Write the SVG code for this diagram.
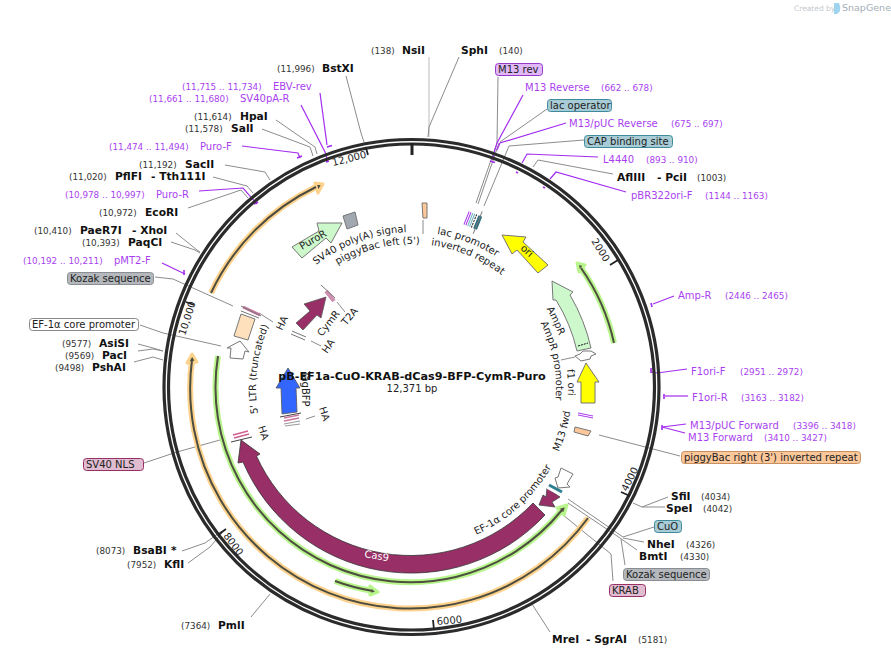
<svg xmlns="http://www.w3.org/2000/svg" xmlns:xlink="http://www.w3.org/1999/xlink" width="891" height="656" viewBox="0 0 891 656">
<style>
text{font-family:"DejaVu Sans","Liberation Sans",sans-serif;font-size:10px;fill:#222}
.b{font-weight:bold;font-size:10.7px;fill:#111}
.c{font-size:8.8px;fill:#333}
.p{fill:#a93ff0}
.pc{fill:#a93ff0;font-size:8.8px}
.ld{fill:none;stroke:#8c8c8c;stroke-width:1}
.lp{fill:none;stroke:#a32cf0;stroke-width:1.2}
.mk{fill:none;stroke:#a32cf0;stroke-width:1.6}
.box{stroke-width:1}
.f{stroke:#777;stroke-width:1}
.dk{fill:none;stroke:#4d4d40;stroke-width:2}
.ho{fill:none;stroke:#fdd28c;stroke-width:6}
.hg{fill:none;stroke:#b8f58c;stroke-width:6}
.gy{stroke:#777;stroke-width:1;fill:none}
</style>
<defs>
<path id="t156" d="M276.9 310A156 156 0 0 1 547.1 310"/>
<path id="t144" d="M287.3 316A144 144 0 0 1 536.7 316"/>
<path id="b160" d="M273.4 468A160 160 0 0 0 550.6 468"/>
</defs>

<g id="logo"><text x="794" y="11" style="font-size:7.5px;fill:#c4c8cc">Created by</text><path d="M834 3h5q2 4 1 8l-3 3h-3z" fill="#9fd4ee"/><text x="842" y="11" style="font-size:9.5px;fill:#a4acb4">SnapGene</text></g>

<g id="connectors">
<path class="ld" style="stroke:#bbb" d="M429 57V137"/>
<path class="ld" d="M459 57L429 127L428 137"/>
<path class="ld" d="M346 76L361 133L364 142"/>
<path class="ld" d="M498 77L497 143L476 203M499 143L478 204"/>
<path class="ld" d="M547 109L500 142"/>
<path class="ld" d="M584 140L509 146L484 206"/>
<path class="ld" d="M613 174L538 160L533 167"/>
<path class="ld" d="M276 120L315 147L317 154"/>
<path class="ld" d="M262 129L310 147L313 156"/>
<path class="ld" d="M225 165L265 172L270 180"/>
<path class="ld" d="M213 177L247 186L253 193"/>
<path class="ld" d="M188 208L241 190L248 198"/>
<path class="ld" d="M176 233L197 250L200 252"/>
<path class="ld" d="M171 242L195 250L200 253"/>
<path class="ld" d="M155 277L173 279L233 306"/>
<path class="ld" d="M140 325L163 333L221 346"/>
<path class="ld" d="M138 344L153 348L163 351"/>
<path class="ld" d="M138 351L153 349L163 351"/>
<path class="ld" d="M134 362L153 357L163 360"/>
<path class="ld" d="M144 463L177 452L220 440"/>
<path class="ld" d="M182 551L205 543L222 531"/>
<path class="ld" d="M188 563L210 547L222 533"/>
<path class="ld" d="M251 617L270 594"/>
<path class="ld" d="M550 632L532 604"/>
<path class="ld" d="M668 497L642 507L633 503"/>
<path class="ld" d="M665 507L642 507"/>
<path class="ld" d="M654 527L623 537L568 499"/>
<path class="ld" d="M644 542L623 538"/>
<path class="ld" d="M637 550L620 538L568 503"/>
<path class="ld" d="M625 565L621 539"/>
<path class="ld" d="M613 581L611 554L563 515"/>
<path class="ld" d="M680 456L599 435"/>
<path class="ld" d="M423 220V234"/>
<path class="ld" d="M337 302L345 312M311 341L321 346M259 313L273 322M306 419L315 416"/>
<path class="lp" d="M523 95L497 143L492 160"/>
<path class="lp" d="M566 123L500 143L497 150"/>
<path class="lp" d="M598 157L527 154L522 163"/>
<path class="lp" d="M626 192L556 172L550 179"/>
<path class="lp" d="M320 93L327 145"/>
<path class="lp" d="M301 105L325 152L328 162"/>
<path class="lp" d="M242 146L298 153L300 158"/>
<path class="lp" d="M199 191L243 188L257 204"/>
<path class="lp" d="M162 263L185 274"/>
<path class="lp" d="M674 296L653 304"/>
<path class="lp" d="M687 369L657 373L651 372"/>
<path class="lp" d="M688 396H665"/>
<path class="lp" d="M686 424L662 427L685 433"/>
<path class="mk" d="M490 161l5 1.5M516 172l2 1M543 187l2 1M327 147l5-1.5M326 162l3-1M297 158l5-2M254 204l4-2M184 270v5M651 303l1 4M651 368v5M664 394v5M662 425v5"/>
</g>

<g id="ring">
<circle cx="411.500" cy="387" r="247.500" fill="none" stroke="#2b2b2b" stroke-width="3.200"/>
<circle cx="411.500" cy="387" r="243" fill="none" stroke="#2b2b2b" stroke-width="3.200"/>
<path d="M412 143V155" stroke="#222" stroke-width="3"/>
<path d="M618 260L610 265M630 496L621 492M434 630L433 620M218 535L226 529M186 302L194 305M366 148L368 155" stroke="#222" stroke-width="1.800" fill="none"/>
<text transform="translate(591 241) rotate(58)">2000</text>
<text transform="translate(627 492) rotate(-63)">4000</text>
<text transform="translate(437 625) rotate(-5)">6000</text>
<text transform="translate(223 536) rotate(53)">8000</text>
<text transform="translate(185 336) rotate(-72)">10,000</text>
<text transform="translate(333 166) rotate(-14)">12,000</text>
</g>

<g id="feature-tracks">
<path class="ho" d="M588 518A220 220 0 0 1 192 360"/>
<path class="ho" d="M211 293A222 222 0 0 1 316 187"/>
<path class="hg" d="M562 510A195 195 0 0 1 218 356"/>
<path class="hg" d="M614 343A207 207 0 0 0 581 268"/>
<path class="hg" d="M335 581A207 207 0 0 0 373 591"/>
<path d="M192 354L187 363L197 362zM323 184L315 183L318 193z" fill="#4d4d40" stroke="#fdd28c" stroke-width="3" stroke-linejoin="round"/>
<path d="M567 505L557 508L564 515zM577 263L579 272L585 265zM378 592L370 586L370 595z" fill="#4d4d40" stroke="#b8f58c" stroke-width="3" stroke-linejoin="round"/>
<path class="dk" d="M588 518A220 220 0 0 1 192 360"/>
<path class="dk" d="M211 293A222 222 0 0 1 316 187"/>
<path class="dk" d="M562 510A195 195 0 0 1 218 356"/>
<path class="dk" d="M614 343A207 207 0 0 0 581 268"/>
<path class="dk" d="M335 581A207 207 0 0 0 373 591"/>
</g>

<g id="cas9">
<path d="M545 515A183 183 0 0 1 243 462L238 463L241 440L260 454L256.500 456A169 169 0 0 0 533 503Z" fill="#982f66" stroke="#333" stroke-width="0.800"/>
<text transform="translate(364 557) rotate(10)" style="fill:#fff">Cas9</text>
</g>
<g id="krab"><path d="M547 488L560 497L552 502L555 507L539 505L543 495L546 497Z" fill="#982f66" stroke="#444" stroke-width="0.800"/><path d="M549 485L562 492" stroke="#2d7f90" stroke-width="3"/><path d="M547 488L560 495" stroke="#fff" stroke-width="1.500"/></g>
<g id="ef1a-arrow"><path d="M561 468L573 474L567 484L570 487L558 488L555 478L558 477Z" fill="#fff" class="f"/></g>

<g id="amp"><path d="M552 281L573 292L570 295A183 183 0 0 1 591 348L577 351A169 169 0 0 0 556 300L553 300Z" fill="#ccf8cc" class="f"/><path d="M578 346L588 343" stroke="#111" stroke-dasharray="2 1"/></g>
<g id="amp-promoter"><path d="M575 356L580 354L583 351H591L596 354L591 356L590 359L581 361Z" fill="#fff" class="f"/><path d="M561 360L575 357" class="ld"/></g>
<g id="f1ori"><path d="M586 363L599 382H595V403H581V382H577Z" fill="#ffff00" class="f"/></g>
<g id="m13fwd"><path d="M578 413L593 416M578 415L593 418" stroke="#a83cf0"/></g>
<g id="piggy-right"><path d="M575 427L591 431L588 436L574 432Z" fill="#fcc89a" class="f"/></g>
<g id="ori"><path d="M502 235L526 237L523 242L548 265L538 273L517 250L512 254Z" fill="#ffff00" class="f"/><text transform="translate(520 249) rotate(42)" style="fill:#222">ori</text></g>
<g id="lac"><g transform="rotate(22 474 221)"><path d="M466 214V228M468 214V228" stroke="#a83cf0"/><path d="M470 214V228M472 214V228" stroke="#6fb3c0"/><path d="M474 214V228" stroke="#111" stroke-dasharray="2 1"/><rect x="476" y="214" width="4" height="14" fill="#2d6f80"/><path d="M478 209V233" class="gy"/></g></g>
<g id="piggy-left"><path d="M422 203L427 203L427 218L423 218Z" fill="#fcc89a" class="f"/></g>
<g id="sv40"><path d="M343 216L355 212L358 225L347 229Z" fill="#a2a8b0" class="f"/></g>
<g id="puror"><path d="M292 247L319 231L317 223L342 223L331 243L326 238L302 258Z" fill="#ccf8cc" class="f"/><text transform="translate(302 250) rotate(-30)">PuroR</text></g>
<g id="cymr"><path d="M326 297L304 304L310 311L296 323L303 330L317 315L321 318Z" fill="#982f66" stroke="#555" stroke-width="0.800"/></g>
<g id="t2a"><path d="M326 291L334 301" stroke="#d08fb0" stroke-width="4"/><path d="M321 285L335 298" class="gy"/></g>
<g id="ha-lines"><path d="M292 331L306 337M291 334L305 340" class="gy"/></g>
<g id="ltr"><path d="M241 314L255 319L248 340L234 336Z" fill="#ffe0bd" class="f"/><path d="M243 307L260 315" stroke="#c9779f" stroke-width="3"/><path d="M241 306L261 316M241 311L259 318" class="gy"/></g>
<g id="ef1a-promoter"><path d="M240 341L249 352L245 351L243 359L230 358L231 348L227 348Z" fill="#fff" class="f"/></g>
<g id="bfp"><path d="M288 368L300 388H296L297 412L282 414L281 388L276 388Z" fill="#3366ff" stroke="#555" stroke-width="0.800"/><path d="M280 417L301 413" stroke="#444"/><path d="M284 418L299 415M284 421L299 418" stroke="#c9779f" stroke-width="1.500"/><path d="M284 424L300 421M285 426L300 424" stroke="#999"/></g>
<g id="nls"><path d="M233 435L248 431M234 438L249 434" stroke="#d0608f" stroke-width="1.500"/><path d="M231 442L252 437" stroke="#444"/></g>

<g id="curved-labels">
<text transform="rotate(-20 412 388)"><textPath href="#t156" startOffset="50%" text-anchor="middle">SV40 poly(A) signal</textPath></text>
<text transform="rotate(-14 412 388)"><textPath href="#t144" startOffset="50%" text-anchor="middle">piggyBac left (5')</textPath></text>
<text transform="rotate(21 412 388)"><textPath href="#t156" startOffset="50%" text-anchor="middle">lac promoter</textPath></text>
<text transform="rotate(23 412 388)"><textPath href="#t144" startOffset="50%" text-anchor="middle">inverted repeat</textPath></text>
<text transform="rotate(65 412 388)"><textPath href="#t156" startOffset="50%" text-anchor="middle">AmpR</textPath></text>
<text transform="rotate(79 412 388)"><textPath href="#t144" startOffset="50%" text-anchor="middle">AmpR promoter</textPath></text>
<text transform="rotate(88 412 388)"><textPath href="#t156" startOffset="50%" text-anchor="middle">f1 ori</textPath></text>
<text transform="rotate(-83 412 388)"><textPath href="#t156" startOffset="50%" text-anchor="middle">5' LTR (truncated)</textPath></text>
<text transform="rotate(-74 412 388)"><textPath href="#b160" startOffset="50%" text-anchor="middle">M13 fwd</textPath></text>
<text transform="rotate(-42 412 388)"><textPath href="#b160" startOffset="50%" text-anchor="middle">EF-1α core promoter</textPath></text>
<text transform="translate(322 337) rotate(-52)">CymR</text>
<text transform="translate(346 326) rotate(-50)">T2A</text>
<text transform="translate(327 354) rotate(-55)">HA</text>
<text transform="translate(282 331) rotate(-65)">HA</text>
<text transform="translate(302 371) rotate(90)">TagBFP</text>
<text transform="translate(319 408) rotate(72)">HA</text>
<text transform="translate(258 427) rotate(72)">HA</text>
</g>

<g id="title">
<text x="412" y="380" text-anchor="middle" class="b" style="font-size:11.200px">pB-EF1a-CuO-KRAB-dCas9-BFP-CymR-Puro</text>
<text x="412" y="392" text-anchor="middle">12,371 bp</text>
</g>

<g id="labels-enzymes">
<text class="c" x="371" y="54">(138)</text><text class="b" x="402" y="54">NsiI</text>
<text class="b" x="461" y="54">SphI</text><text class="c" x="499" y="54">(140)</text>
<text class="c" x="277" y="72">(11,996)</text><text class="b" x="322" y="72">BstXI</text>
<text class="c" x="194" y="120">(11,614)</text><text class="b" x="240" y="120">HpaI</text>
<text class="c" x="185" y="132">(11,578)</text><text class="b" x="231" y="132">SalI</text>
<text class="c" x="139" y="168">(11,192)</text><text class="b" x="185" y="168">SacII</text>
<text class="c" x="69" y="180">(11,020)</text><text class="b" x="115" y="180">PflFI</text><text class="b" x="151" y="180">- Tth111I</text>
<text class="c" x="99" y="216">(10,972)</text><text class="b" x="145" y="216">EcoRI</text>
<text class="c" x="34" y="234">(10,410)</text><text class="b" x="80" y="234">PaeR7I</text><text class="b" x="132" y="234">- XhoI</text>
<text class="c" x="82" y="246">(10,393)</text><text class="b" x="128" y="246">PaqCI</text>
<text class="c" x="62" y="347">(9577)</text><text class="b" x="99" y="347">AsiSI</text>
<text class="c" x="65" y="359">(9569)</text><text class="b" x="102" y="359">PacI</text>
<text class="c" x="55" y="371">(9498)</text><text class="b" x="92" y="371">PshAI</text>
<text class="c" x="96" y="554">(8073)</text><text class="b" x="133" y="554">BsaBI</text><text class="b" x="171" y="554">*</text>
<text class="c" x="127" y="568">(7952)</text><text class="b" x="164" y="568">KflI</text>
<text class="c" x="181" y="629">(7364)</text><text class="b" x="218" y="629">PmlI</text>
<text class="b" x="552" y="643">MreI</text><text class="b" x="586" y="643">- SgrAI</text><text class="c" x="638" y="643">(5181)</text>
<text class="b" x="639" y="560">BmtI</text><text class="c" x="680" y="560">(4330)</text>
<text class="b" x="647" y="548">NheI</text><text class="c" x="686" y="548">(4326)</text>
<text class="b" x="666" y="512">SpeI</text><text class="c" x="703" y="512">(4042)</text>
<text class="b" x="671" y="500">SfiI</text><text class="c" x="701" y="500">(4034)</text>
<text class="b" x="617" y="181">AflIII</text><text class="b" x="657" y="181">- PciI</text><text class="c" x="697" y="181">(1003)</text>
</g>

<g id="labels-primers">
<text class="pc" x="182" y="90">(11,715 .. 11,734)</text><text class="p" x="273" y="90">EBV-rev</text>
<text class="pc" x="149" y="102">(11,661 .. 11,680)</text><text class="p" x="240" y="102">SV40pA-R</text>
<text class="pc" x="109" y="150">(11,474 .. 11,494)</text><text class="p" x="200" y="150">Puro-F</text>
<text class="pc" x="65" y="198">(10,978 .. 10,997)</text><text class="p" x="156" y="198">Puro-R</text>
<text class="pc" x="23" y="264">(10,192 .. 10,211)</text><text class="p" x="114" y="264">pMT2-F</text>
<text class="p" x="525" y="91">M13 Reverse</text><text class="pc" x="601" y="91">(662 .. 678)</text>
<text class="p" x="569" y="127">M13/pUC Reverse</text><text class="pc" x="671" y="127">(675 .. 697)</text>
<text class="p" x="603" y="163">L4440</text><text class="pc" x="646" y="163">(893 .. 910)</text>
<text class="p" x="631" y="199">pBR322ori-F</text><text class="pc" x="705" y="199">(1144 .. 1163)</text>
<text class="p" x="678" y="299">Amp-R</text><text class="pc" x="725" y="299">(2446 .. 2465)</text>
<text class="p" x="691" y="375">F1ori-F</text><text class="pc" x="740" y="375">(2951 .. 2972)</text>
<text class="p" x="692" y="401">F1ori-R</text><text class="pc" x="741" y="401">(3163 .. 3182)</text>
<text class="p" x="690" y="429">M13/pUC Forward</text><text class="pc" x="793" y="429">(3396 .. 3418)</text>
<text class="p" x="688" y="441">M13 Forward</text><text class="pc" x="764" y="441">(3410 .. 3427)</text>
</g>

<g id="box-m13rev"><rect class="box" x="495.500" y="63.500" width="47" height="12" rx="3" fill="#e0b8f8" stroke="#9438c8"/><text x="498" y="73">M13 rev</text></g>
<g id="box-lacop"><rect class="box" x="547.500" y="99.500" width="64" height="12" rx="3" fill="#a8ccd6" stroke="#3f8a9c"/><text x="550" y="109">lac operator</text></g>
<g id="box-cap"><rect class="box" x="584.500" y="135.500" width="88" height="12" rx="3" fill="#a8ccd6" stroke="#3f8a9c"/><text x="587" y="145">CAP binding site</text></g>
<g id="box-kozak1"><rect class="box" x="67.500" y="272.500" width="86" height="12" rx="3" fill="#b4b8bc" stroke="#8a8e92"/><text x="70" y="282">Kozak sequence</text></g>
<g id="box-ef1a"><rect class="box" x="29.500" y="318.500" width="109" height="12" rx="3" fill="#fff" stroke="#888"/><text x="32" y="328">EF-1α core promoter</text></g>
<g id="box-nls"><rect class="box" x="83.500" y="458.500" width="60" height="12" rx="3" fill="#e0bcd0" stroke="#982f66"/><text x="86" y="468">SV40 NLS</text></g>
<g id="box-piggy"><rect class="box" x="681.500" y="451.500" width="179" height="12" rx="3" fill="#fcc89a" stroke="#c89060"/><text x="684" y="461">piggyBac right (3') inverted repeat</text></g>
<g id="box-cuo"><rect class="box" x="654.500" y="520.500" width="27" height="12" rx="3" fill="#a8ccd6" stroke="#3f8a9c"/><text x="657" y="530">CuO</text></g>
<g id="box-kozak2"><rect class="box" x="623.500" y="568.500" width="86" height="12" rx="3" fill="#b4b8bc" stroke="#8a8e92"/><text x="626" y="578">Kozak sequence</text></g>
<g id="box-krab"><rect class="box" x="609.500" y="584.500" width="36" height="12" rx="3" fill="#e0bcd0" stroke="#982f66"/><text x="612" y="594">KRAB</text></g>
</svg>
